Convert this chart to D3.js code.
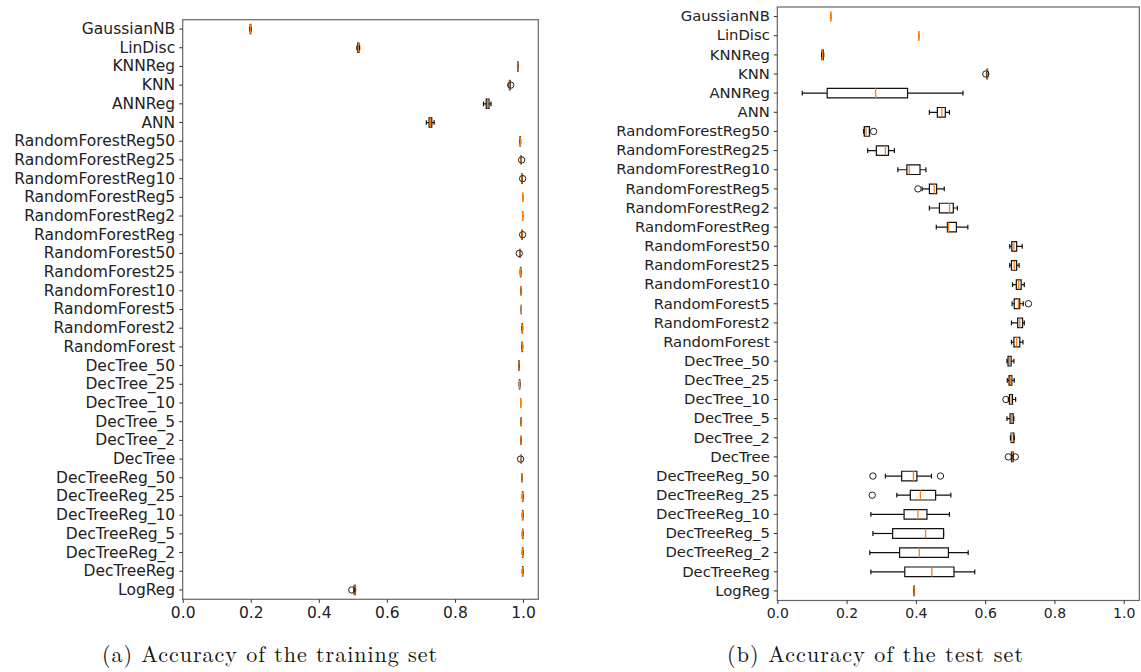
<!DOCTYPE html>
<html>
<head>
<meta charset="utf-8">
<script src="https://cdn.jsdelivr.net/npm/d3@7"></script>
<style>
  html, body { margin: 0; padding: 0; background: #fff; }
  svg { display: block; }
  .tick text { fill: #222; }
</style>
</head>
<body>
<svg id="chart" width="1141" height="672"></svg>
<script>
// ==================== DATA ====================
// model names, top row first (matplotlib puts LogReg at position 1, bottom)
const models = [
  'GaussianNB', 'LinDisc', 'KNNReg', 'KNN', 'ANNReg', 'ANN',
  'RandomForestReg50', 'RandomForestReg25', 'RandomForestReg10', 'RandomForestReg5',
  'RandomForestReg2', 'RandomForestReg',
  'RandomForest50', 'RandomForest25', 'RandomForest10', 'RandomForest5',
  'RandomForest2', 'RandomForest',
  'DecTree_50', 'DecTree_25', 'DecTree_10', 'DecTree_5', 'DecTree_2', 'DecTree',
  'DecTreeReg_50', 'DecTreeReg_25', 'DecTreeReg_10', 'DecTreeReg_5', 'DecTreeReg_2', 'DecTreeReg',
  'LogReg'
];

const xTicks = [0, 0.2, 0.4, 0.6, 0.8, 1.0];

// [whisker low, q1, median, q3, whisker high] per model
const trainBoxes = [
  [0.197, 0.1985, 0.199, 0.200, 0.201],
  [0.512, 0.514, 0.516, 0.518, 0.520],
  [0.984, 0.9845, 0.985, 0.9855, 0.986],
  [0.959, 0.960, 0.961, 0.962, 0.963],
  [0.884, 0.892, 0.896, 0.900, 0.906],
  [0.716, 0.724, 0.728, 0.732, 0.739],
  [0.991, 0.9915, 0.992, 0.9925, 0.993],
  [0.994, 0.994, 0.994, 0.994, 0.994],
  [0.996, 0.9965, 0.997, 0.9975, 0.998],
  [0.999, 0.999, 0.999, 0.999, 0.999],
  [0.999, 0.999, 0.999, 0.999, 0.999],
  [0.997, 0.9972, 0.9975, 0.9978, 0.998],
  [0.991, 0.991, 0.991, 0.991, 0.991],
  [0.992, 0.9925, 0.993, 0.9935, 0.994],
  [0.994, 0.994, 0.994, 0.994, 0.994],
  [0.995, 0.995, 0.995, 0.995, 0.995],
  [0.997, 0.9975, 0.998, 0.9985, 0.999],
  [0.997, 0.9975, 0.998, 0.9985, 0.999],
  [0.987, 0.9875, 0.988, 0.9885, 0.989],
  [0.989, 0.9895, 0.990, 0.9905, 0.991],
  [0.993, 0.993, 0.993, 0.993, 0.993],
  [0.994, 0.994, 0.994, 0.994, 0.994],
  [0.994, 0.994, 0.994, 0.994, 0.994],
  [0.995, 0.995, 0.995, 0.995, 0.995],
  [0.997, 0.997, 0.997, 0.997, 0.997],
  [0.998, 0.9985, 0.999, 0.9995, 1.000],
  [0.998, 0.9985, 0.999, 0.9995, 1.000],
  [0.998, 0.9985, 0.999, 0.9995, 1.000],
  [0.998, 0.9985, 0.999, 0.9995, 1.000],
  [0.998, 0.9985, 0.999, 0.9995, 1.000],
  [0.503, 0.504, 0.506, 0.507, 0.508]
];

const trainFliers = [
  [], [], [], [0.964], [], [],
  [], [0.996], [0.999], [], [], [0.999],
  [0.989], [], [], [], [], [],
  [], [], [], [], [], [0.993],
  [], [], [], [], [], [],
  [0.497]
];

const testBoxes = [
  [0.154, 0.154, 0.154, 0.154, 0.154],
  [0.408, 0.408, 0.408, 0.408, 0.408],
  [0.128, 0.129, 0.131, 0.133, 0.134],
  [0.604, 0.605, 0.606, 0.607, 0.608],
  [0.072, 0.144, 0.284, 0.376, 0.536],
  [0.439, 0.462, 0.475, 0.485, 0.497],
  [0.249, 0.251, 0.256, 0.266, 0.266],
  [0.261, 0.286, 0.312, 0.321, 0.338],
  [0.348, 0.374, 0.381, 0.412, 0.429],
  [0.418, 0.439, 0.453, 0.460, 0.482],
  [0.439, 0.468, 0.497, 0.508, 0.520],
  [0.459, 0.491, 0.494, 0.517, 0.550],
  [0.671, 0.677, 0.683, 0.691, 0.707],
  [0.671, 0.676, 0.684, 0.691, 0.698],
  [0.679, 0.690, 0.697, 0.704, 0.713],
  [0.678, 0.684, 0.696, 0.700, 0.710],
  [0.676, 0.694, 0.700, 0.708, 0.713],
  [0.676, 0.683, 0.691, 0.700, 0.709],
  [0.663, 0.666, 0.671, 0.675, 0.683],
  [0.664, 0.669, 0.674, 0.677, 0.684],
  [0.667, 0.670, 0.675, 0.679, 0.688],
  [0.663, 0.672, 0.676, 0.681, 0.683],
  [0.673, 0.675, 0.677, 0.683, 0.684],
  [0.676, 0.676, 0.679, 0.681, 0.681],
  [0.312, 0.359, 0.393, 0.403, 0.445],
  [0.345, 0.384, 0.413, 0.457, 0.501],
  [0.270, 0.366, 0.406, 0.432, 0.497],
  [0.276, 0.333, 0.428, 0.480, 0.480],
  [0.267, 0.353, 0.410, 0.494, 0.551],
  [0.270, 0.368, 0.446, 0.510, 0.570],
  [0.394, 0.3945, 0.395, 0.3955, 0.396]
];

const testFliers = [
  [], [], [], [0.602], [], [],
  [0.278], [], [], [0.406], [], [],
  [], [], [], [0.725], [], [],
  [], [], [0.660], [], [], [0.667, 0.687],
  [0.276, 0.471], [0.274], [], [], [], [],
  []
];

// ==================== DRAW ====================
const svg = d3.select('#chart');

function drawPanel(opts) {
  const { left, right, top, bottom, boxes, fliers, yFont, xFont, caption, capX, capW } = opts;

  const x = d3.scaleLinear().domain([0, 1.045]).range([left, right]);
  const y = d3.scaleBand().domain(models).range([top, bottom]).padding(0);
  const bw = y.bandwidth();
  const half = bw * 0.25;
  const cap = bw * 0.125;

  const g = svg.append('g');

  // frame
  g.append('rect')
    .attr('x', left).attr('y', top)
    .attr('width', right - left).attr('height', bottom - top)
    .attr('fill', 'none').attr('stroke', '#666').attr('stroke-width', 1.2);

  const rows = g.selectAll('g.row')
    .data(models.map((m, i) => ({ name: m, s: boxes[i], f: fliers[i] })))
    .join('g')
    .attr('class', 'row')
    .attr('transform', (d) => `translate(0, ${y(d.name) + bw / 2})`);

  // whiskers
  rows.append('path')
    .attr('d', (d) => `M${x(d.s[0])},0H${x(d.s[1])}M${x(d.s[3])},0H${x(d.s[4])}`)
    .attr('stroke', '#111').attr('stroke-width', 1.2).attr('fill', 'none');

  // caps
  rows.append('path')
    .attr('d', (d) => `M${x(d.s[0])},${-cap}V${cap}M${x(d.s[4])},${-cap}V${cap}`)
    .attr('stroke', '#111').attr('stroke-width', 1.2).attr('fill', 'none');

  // box (path so that zero-width boxes still show)
  rows.append('path')
    .attr('d', (d) => `M${x(d.s[1])},${-half}H${x(d.s[3])}V${half}H${x(d.s[1])}Z`)
    .attr('stroke', '#111').attr('stroke-width', 1.2).attr('fill', 'none');

  // median
  rows.append('line')
    .attr('x1', (d) => x(d.s[2])).attr('x2', (d) => x(d.s[2]))
    .attr('y1', -half).attr('y2', half)
    .attr('stroke', '#ff7f0e').attr('stroke-width', 1.3);

  // fliers
  rows.selectAll('circle')
    .data((d) => d.f)
    .join('circle')
    .attr('cx', (v) => x(v)).attr('cy', 0).attr('r', 3.2)
    .attr('fill', 'none').attr('stroke', '#222').attr('stroke-width', 1);

  // axes
  const xAxis = g.append('g')
    .attr('transform', `translate(0, ${bottom})`)
    .call(d3.axisBottom(x).tickValues(xTicks).tickFormat(d3.format('.1f')).tickSize(3.5).tickPadding(4).tickSizeOuter(0));
  xAxis.select('.domain').remove();
  xAxis.selectAll('.tick line').attr('stroke', '#333');
  xAxis.selectAll('.tick text')
    .attr('font-family', '"DejaVu Sans", sans-serif')
    .attr('font-size', xFont + 'px');

  const yAxis = g.append('g')
    .attr('transform', `translate(${left}, 0)`)
    .call(d3.axisLeft(y).tickSize(3.5).tickPadding(4).tickSizeOuter(0));
  yAxis.select('.domain').remove();
  yAxis.selectAll('.tick line').attr('stroke', '#333');
  yAxis.selectAll('.tick text')
    .attr('font-family', '"DejaVu Sans", sans-serif')
    .attr('font-size', yFont + 'px');

  // caption under the subfigure
  svg.append('text')
    .attr('x', capX).attr('y', 662)
    .attr('font-family', '"Latin Modern Roman", "Liberation Serif", serif')
    .attr('font-size', '22px')
    .attr('fill', '#111')
    .attr('textLength', capW)
    .attr('lengthAdjust', 'spacing')
    .text(caption);
}

drawPanel({
  left: 182.7, right: 538.3, top: 19.7, bottom: 599.3,
  boxes: trainBoxes, fliers: trainFliers,
  yFont: 15.5, xFont: 15.5,
  caption: '(a) Accuracy of the training set', capX: 102, capW: 335
});

drawPanel({
  left: 777.3, right: 1139.3, top: 7, bottom: 600.5,
  boxes: testBoxes, fliers: testFliers,
  yFont: 14.8, xFont: 14,
  caption: '(b) Accuracy of the test set', capX: 727, capW: 296
});
</script>
</body>
</html>
